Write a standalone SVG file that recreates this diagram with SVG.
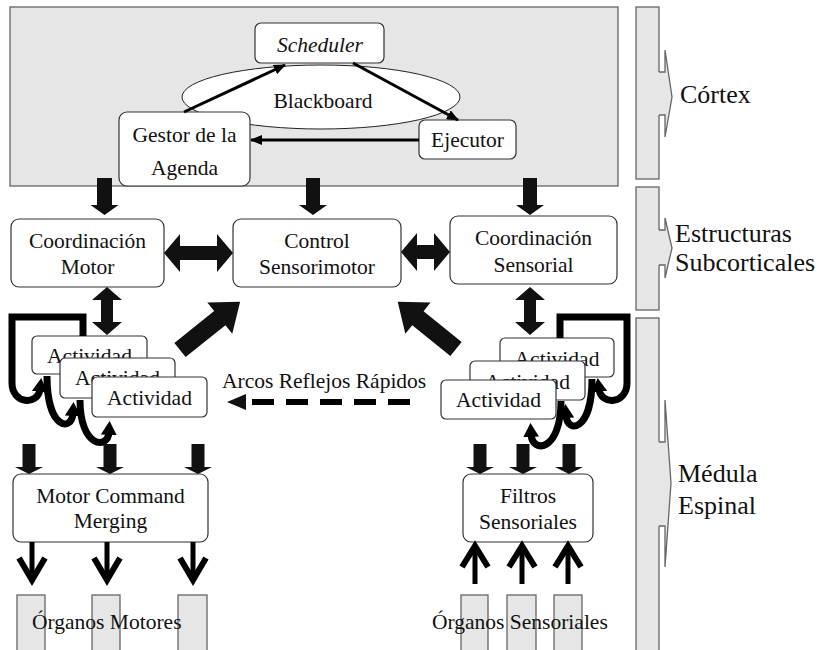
<svg xmlns="http://www.w3.org/2000/svg" width="824" height="650" viewBox="0 0 824 650" font-family="'Liberation Serif', 'Times New Roman', Times, 'DejaVu Serif', serif">
<style>
text{font-family:'Liberation Serif','Times New Roman',Times,'DejaVu Serif',serif;font-size:21.5px;fill:#111}
.c{text-anchor:middle}
.lab{font-size:26px}
.box{fill:#fff;stroke:#333;stroke-width:1.2}
.gray{fill:#e6e6e6;stroke:#666;stroke-width:1.3}
.blk{fill:#111;stroke:none}
.thin{fill:none;stroke:#000;stroke-width:3}
.loop{fill:none;stroke:#000;stroke-width:7}
.ln{fill:none;stroke:#000;stroke-width:5}
.hd{fill:none;stroke:#000;stroke-width:6;stroke-linejoin:miter}
.br{fill:none;stroke:#666;stroke-width:1.3}
</style>
<defs>
<marker id="ah" viewBox="0 0 12 10" refX="11" refY="5" markerWidth="12" markerHeight="10" markerUnits="userSpaceOnUse" orient="auto">
<path d="M0,0 L12,5 L0,10 z" fill="#000"/>
</marker>
<marker id="cv" viewBox="0 0 14 16" refX="3" refY="8" markerWidth="14" markerHeight="16" markerUnits="userSpaceOnUse" orient="auto">
<path d="M0,0 L14,8 L0,16 z" fill="#000"/>
</marker>
</defs>

<g id="cortex">
<rect x="10" y="7" width="608" height="179" class="gray" stroke="#555"/>
</g>

<g id="levels">
<rect x="636" y="7" width="23" height="172" class="gray"/>
<rect x="636" y="187" width="23" height="123" class="gray"/>
<rect x="636" y="318" width="23" height="334" class="gray"/>
<polygon points="658,72 665,72 665,50 672,97 665,137 665,115 658,115" fill="#e6e6e6"/>
<polyline points="659,72 665,72 665,50 672,97 665,137 665,115 659,115" class="br"/>
<polygon points="658,230 665,230 665,218 672,248 665,278 665,265 658,265" fill="#e6e6e6"/>
<polyline points="659,230 665,230 665,218 672,248 665,278 665,265 659,265" class="br"/>
<polygon points="658,442 665,442 665,400 671,483 665,567 665,526 658,526" fill="#e6e6e6"/>
<polyline points="659,442 665,442 665,400 671,483 665,567 665,526 659,526" class="br"/>
<text x="680" y="103" class="lab">Córtex</text>
<text x="675" y="242" class="lab">Estructuras</text>
<text x="675" y="271" class="lab">Subcorticales</text>
<text x="678" y="482" class="lab">Médula</text>
<text x="678" y="514" class="lab">Espinal</text>
</g>

<g id="blackboard">
<ellipse cx="321" cy="97" rx="139" ry="32" fill="#fff" stroke="#222" stroke-width="1"/>
<text x="323" y="108" class="c">Blackboard</text>
</g>
<g id="scheduler">
<rect x="255" y="23" width="129" height="40" rx="6" class="box"/>
<text x="320" y="52" class="c" font-style="italic">Scheduler</text>
</g>
<g id="gestor">
<rect x="119" y="112" width="131" height="74" rx="8" class="box"/>
<text x="184.5" y="142" class="c">Gestor de la</text>
<text x="184.5" y="175" class="c">Agenda</text>
</g>
<g id="ejecutor">
<rect x="419" y="120" width="97" height="39" rx="6" class="box"/>
<text x="467.5" y="147" class="c">Ejecutor</text>
</g>

<g id="coord-motor">
<rect x="11" y="219" width="153" height="68" rx="8" class="box"/>
<text x="87.5" y="248" class="c">Coordinación</text>
<text x="87.5" y="274" class="c">Motor</text>
</g>
<g id="control">
<rect x="233" y="219" width="168" height="68" rx="8" class="box"/>
<text x="317" y="248" class="c">Control</text>
<text x="317" y="274" class="c">Sensorimotor</text>
</g>
<g id="coord-sensorial">
<rect x="450" y="216" width="167" height="68" rx="8" class="box"/>
<text x="533.5" y="245" class="c">Coordinación</text>
<text x="533.5" y="272" class="c">Sensorial</text>
</g>

<g id="act-motor-1">
<rect x="32" y="336" width="115" height="38" rx="5" class="box"/>
<text x="89.5" y="363" class="c">Actividad</text>
</g>
<g id="act-motor-2">
<rect x="60" y="358" width="115" height="40" rx="5" class="box"/>
<text x="117.5" y="385" class="c">Actividad</text>
</g>
<g id="act-motor-3">
<rect x="92" y="377" width="115" height="40" rx="5" class="box"/>
<text x="149.5" y="405" class="c">Actividad</text>
</g>
<g id="act-sens-1">
<rect x="500" y="338" width="114" height="39" rx="5" class="box"/>
<text x="557" y="366" class="c">Actividad</text>
</g>
<g id="act-sens-2">
<rect x="470" y="361" width="115" height="39" rx="5" class="box"/>
<text x="527.5" y="389" class="c">Actividad</text>
</g>
<g id="act-sens-3">
<rect x="441" y="380" width="115" height="39" rx="5" class="box"/>
<text x="498.5" y="407" class="c">Actividad</text>
</g>

<g id="merging">
<rect x="13" y="474" width="195" height="68" rx="8" class="box"/>
<text x="110.5" y="503" class="c">Motor Command</text>
<text x="110.5" y="528" class="c">Merging</text>
</g>
<g id="filtros">
<rect x="463" y="474" width="130" height="68" rx="8" class="box"/>
<text x="528" y="503" class="c">Filtros</text>
<text x="528" y="529" class="c">Sensoriales</text>
</g>

<g id="organos-motores">
<rect x="17" y="595" width="28" height="58" class="gray"/>
<rect x="92" y="595" width="28" height="58" class="gray"/>
<rect x="178" y="595" width="29" height="58" class="gray"/>
<text x="32" y="629">Órganos Motores</text>
</g>
<g id="organos-sensoriales">
<rect x="461" y="595" width="27" height="58" class="gray"/>
<rect x="507" y="595" width="29" height="58" class="gray"/>
<rect x="554" y="595" width="28" height="58" class="gray"/>
<text x="432" y="629">Órganos Sensoriales</text>
</g>

<g id="connectors">
<line x1="184" y1="112" x2="285" y2="65" class="thin" marker-end="url(#ah)"/>
<line x1="353" y1="63" x2="458" y2="120" class="thin" marker-end="url(#ah)"/>
<line x1="419" y1="140" x2="251" y2="140" class="thin" marker-end="url(#ah)"/>

<polygon class="blk" points="97,178 112,178 112,205 118.5,205 104.5,215 90.5,205 97,205"/>
<polygon class="blk" points="306,178 320,178 320,205 327,205 313,215 299,205 306,205"/>
<polygon class="blk" points="523,178 537,178 537,205 544,205 530,215 516,205 523,205"/>

<polygon class="blk" points="164,253 180,234 180,246 217,246 217,234 233,253 217,272 217,260 180,260 180,272"/>
<polygon class="blk" points="401,252 417,233 417,245 434,245 434,233 450,252 434,271 434,259 417,259 417,271"/>

<polygon class="blk" points="107,287 122,300 113,300 113,322 122,322 107,335 92,322 101,322 101,300 92,300"/>
<polygon class="blk" points="530,287 545,300 536,300 536,322 545,322 530,335 515,322 524,322 524,300 515,300"/>

<polygon class="blk" transform="translate(180,350) rotate(-38.7)" points="0,-9 51,-9 51,-20 77,0 51,20 51,9 0,9"/>
<polygon class="blk" transform="translate(456,349) rotate(-141)" points="0,-9 49,-9 49,-20 75,0 49,20 49,9 0,9"/>

<path d="M83,336 V317 H12 V383 C12,404 38,406 40,389" class="loop" marker-end="url(#cv)"/>
<path d="M47,376 C47,430 72,432 73,413" class="loop" marker-end="url(#cv)"/>
<path d="M80,400 C80,448 108,450 109,432" class="loop" marker-end="url(#cv)"/>
<path d="M560,338 V317 H627 V383 C627,404 601,406 599,389" class="loop" marker-end="url(#cv)"/>
<path d="M592,379 C592,432 567,434 566,415" class="loop" marker-end="url(#cv)"/>
<path d="M561,401 C561,452 532,454 531,434" class="loop" marker-end="url(#cv)"/>

<line x1="410" y1="402" x2="252" y2="402" stroke="#000" stroke-width="6" stroke-dasharray="22 12"/>
<polygon class="blk" points="227,402 246,394 246,410"/>
<text x="222" y="388" font-size="20">Arcos Reflejos Rápidos</text>

<polygon class="blk" points="22.5,444 35.5,444 35.5,467 43,467 29,474 15,467 22.5,467"/>
<polygon class="blk" points="103.5,444 116.5,444 116.5,467 124,467 110,474 96,467 103.5,467"/>
<polygon class="blk" points="191.5,444 204.5,444 204.5,467 212,467 198,474 184,467 191.5,467"/>
<polygon class="blk" points="473.5,444 486.5,444 486.5,467 494,467 480,474 466,467 473.5,467"/>
<polygon class="blk" points="516.5,444 529.5,444 529.5,467 537,467 523,474 509,467 516.5,467"/>
<polygon class="blk" points="562.5,444 575.5,444 575.5,467 583,467 569,474 555,467 562.5,467"/>

<line x1="32" y1="542" x2="32" y2="579" class="ln"/>
<polyline points="19,558 32,580 45,558" class="hd"/>
<line x1="107" y1="542" x2="107" y2="579" class="ln"/>
<polyline points="94,558 107,580 120,558" class="hd"/>
<line x1="193" y1="542" x2="193" y2="579" class="ln"/>
<polyline points="180,558 193,580 206,558" class="hd"/>

<line x1="475" y1="584" x2="475" y2="548" class="ln"/>
<polyline points="462,567 475,546 488,567" class="hd"/>
<line x1="522" y1="584" x2="522" y2="548" class="ln"/>
<polyline points="509,567 522,546 535,567" class="hd"/>
<line x1="568" y1="584" x2="568" y2="548" class="ln"/>
<polyline points="555,567 568,546 581,567" class="hd"/>
</g>
</svg>
